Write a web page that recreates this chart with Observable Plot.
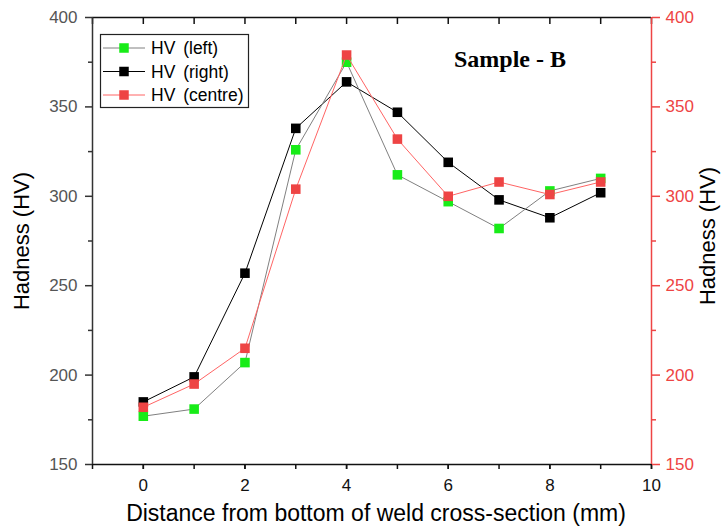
<!DOCTYPE html>
<html>
<head>
<meta charset="utf-8">
<script src="https://cdn.jsdelivr.net/npm/d3@7"></script>
<script src="https://cdn.jsdelivr.net/npm/@observablehq/plot@0.6"></script>
<style>
  html, body { margin: 0; padding: 0; background: #fff; }
  svg { display: block; }
</style>
</head>
<body>
<div id="chart"></div>
<script>
// ---- data ----
const distance = [0, 1, 2, 3, 4, 5, 6, 7, 8, 9];
const hvLeft   = [177, 181, 207, 326, 375, 312, 297, 282, 303, 310];
const hvRight  = [185, 199, 257, 338, 364, 347, 319, 298, 288, 302];
const hvCentre = [182, 195, 215, 304, 379, 332, 300, 308, 301, 308];
const seriesNames = ["HV (left)", "HV (right)", "HV (centre)"];

const xDomain = [-1, 10];
const yDomain = [150, 400];
const xMajorTicks = [0, 2, 4, 6, 8, 10];
const xAllTicks = [-1, 0, 1, 2, 3, 4, 5, 6, 7, 8, 9, 10];
const yMajorTicks = [150, 200, 250, 300, 350, 400];
const yMinorTicks = [175, 225, 275, 325, 375];

const xLabel = "Distance from bottom of weld cross-section (mm)";
const yLabel = "Hadness (HV)";
const titleText = "Sample - B";

// ---- styles ----
const RED = "#ee4444";
const styles = {
  "HV (left)":   {line: "#808080", fill: "#18ec18"},
  "HV (right)":  {line: "#000000", fill: "#000000"},
  "HV (centre)": {line: "#ff6464", fill: "#ee4444"}
};

const valuesBySeries = {"HV (left)": hvLeft, "HV (right)": hvRight, "HV (centre)": hvCentre};
const table = seriesNames.flatMap(name =>
  distance.map((d, i) => ({series: name, x: d, y: valuesBySeries[name][i]})));

const W = 722, H = 528;
const mL = 92, mR = 71, mT = 17, mB = 64;
const topTickLen = 7;

const drawOrder = ["HV (right)", "HV (left)", "HV (centre)"];
const seriesMarks = drawOrder.flatMap(name => {
  const data = table.filter(d => d.series === name);
  return [
    Plot.line(data, {x: "x", y: "y", stroke: styles[name].line, strokeWidth: 1}),
    Plot.dot(data, {x: "x", y: "y", symbol: "square", r: 5.4, fill: styles[name].fill, stroke: "none"})
  ];
});

const chart = Plot.plot({
  width: W,
  height: H,
  marginLeft: mL,
  marginRight: mR,
  marginTop: mT,
  marginBottom: mB,
  style: {fontFamily: "'Liberation Sans', Arial, sans-serif", fontSize: "17px", background: "#fff"},
  x: {domain: xDomain},
  y: {domain: yDomain},
  marks: [
    // bottom axis
    Plot.axisX({anchor: "bottom", ticks: xMajorTicks, tickSize: 5, tickPadding: 9, strokeWidth: 1.5, color: "#111", label: null}),
    Plot.axisX({anchor: "bottom", ticks: xAllTicks, tickSize: 5, tickFormat: () => "", strokeWidth: 1.5, color: "#111", label: null}),
    // top axis (inward ticks)
    Plot.tickX(xAllTicks, {x: d => d, insetBottom: H - mT - mB - topTickLen, stroke: "#111", strokeWidth: 1.5}),
    // left axis
    Plot.axisY({anchor: "left", ticks: yMajorTicks, tickSize: 7, tickPadding: 8, strokeWidth: 1.5, stroke: "#333", fill: "#555", label: null}),
    Plot.axisY({anchor: "left", ticks: yMinorTicks, tickSize: 4, tickFormat: () => "", strokeWidth: 1.5, stroke: "#333", label: null}),
    // right axis
    Plot.axisY({anchor: "right", ticks: yMajorTicks, tickSize: 8, tickPadding: 6, strokeWidth: 1.5, color: RED, label: null}),
    Plot.axisY({anchor: "right", ticks: yMinorTicks, tickSize: 4, tickFormat: () => "", strokeWidth: 1.5, color: RED, label: null}),
    // frame
    Plot.ruleY([yDomain[1]], {stroke: "#111", strokeWidth: 1.5}),
    Plot.ruleY([yDomain[0]], {stroke: "#111", strokeWidth: 1.5}),
    Plot.ruleX([xDomain[0]], {stroke: "#333", strokeWidth: 1.5}),
    Plot.ruleX([xDomain[1]], {stroke: RED, strokeWidth: 1.5}),
    ...seriesMarks
  ]
});

document.getElementById("chart").appendChild(chart);

// ---- labels, title, legend ----
const svg = d3.select(chart);
const font = "'Liberation Sans', Arial, sans-serif";

svg.append("text")
  .attr("x", 376).attr("y", 521)
  .attr("text-anchor", "middle")
  .attr("font-family", font).attr("font-size", 23)
  .attr("fill", "#000")
  .text(xLabel);

svg.append("text")
  .attr("transform", "translate(29,241) rotate(-90)")
  .attr("text-anchor", "middle")
  .attr("font-family", font).attr("font-size", 22)
  .attr("fill", "#000")
  .text(yLabel);

svg.append("text")
  .attr("transform", "translate(715,236) rotate(-90)")
  .attr("text-anchor", "middle")
  .attr("font-family", font).attr("font-size", 22)
  .attr("fill", "#000")
  .text(yLabel);

svg.append("text")
  .attr("x", 510).attr("y", 67)
  .attr("text-anchor", "middle")
  .attr("font-family", "'Liberation Serif', 'Times New Roman', serif")
  .attr("font-weight", "bold").attr("font-size", 24)
  .attr("fill", "#000")
  .text(titleText);

const lg = svg.append("g");
lg.append("rect")
  .attr("x", 100.5).attr("y", 34.5).attr("width", 148).attr("height", 73)
  .attr("fill", "#fff").attr("stroke", "#222").attr("stroke-width", 1.2);
seriesNames.forEach((name, i) => {
  const cy = 48 + i * 23.5;
  lg.append("line").attr("x1", 103).attr("x2", 145).attr("y1", cy).attr("y2", cy)
    .attr("stroke", styles[name].line).attr("stroke-width", 1);
  lg.append("rect").attr("x", 124 - 4.75).attr("y", cy - 4.75).attr("width", 9.5).attr("height", 9.5)
    .attr("fill", styles[name].fill);
  lg.append("text").attr("x", 151).attr("y", cy + 6)
    .attr("text-anchor", "start")
    .attr("font-family", font).attr("font-size", 17.5).attr("fill", "#000")
    .text(name)
    .attr("word-spacing", 3);
});
</script>
</body>
</html>
